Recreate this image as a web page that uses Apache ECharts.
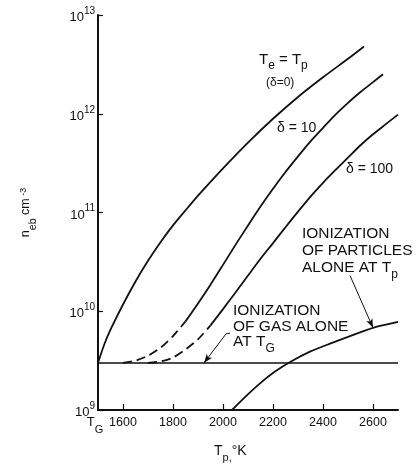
<!DOCTYPE html>
<html><head><meta charset="utf-8">
<script src="https://cdn.jsdelivr.net/npm/echarts@6/dist/echarts.min.js"></script>
<style>html,body{margin:0;padding:0;background:#fff}#c{width:419px;height:473px}</style>
</head><body><div id="c"></div>
<script>
// ---- data ----
const xTickValues = [1600, 1800, 2000, 2200, 2400, 2600];
const xLabelValues = [1500, 1600, 1800, 2000, 2200, 2400, 2600];
const yTickValues = [1e9, 1e10, 1e11, 1e12, 1e13];
const yTickExponents = ['9', '10', '11', '12', '13'];

// Te = Tp (delta = 0)
const tempEqual = [1500, 1525, 1550, 1600, 1650, 1700, 1750, 1800, 1850, 1900, 1950, 2000, 2100, 2200, 2300, 2400, 2500, 2564];
const neEqual   = [3.0e9, 4.6e9, 6.5e9, 1.17e10, 2.0e10, 3.24e10, 5.0e10, 7.4e10, 1.05e11, 1.48e11, 2.04e11, 2.8e11, 5.1e11, 8.9e11, 1.48e12, 2.34e12, 3.6e12, 4.8e12];

// delta = 10 (dashed part, then solid part)
const tempD10Dash = [1600, 1650, 1700, 1750, 1800, 1850];
const neD10Dash   = [3.0e9, 3.16e9, 3.55e9, 4.27e9, 5.6e9, 7.9e9];
const tempD10 = [1850, 1900, 1950, 2000, 2050, 2100, 2150, 2200, 2250, 2300, 2350, 2400, 2450, 2500, 2550, 2600, 2640];
const neD10   = [7.9e9, 1.2e10, 1.86e10, 2.95e10, 4.7e10, 7.4e10, 1.15e11, 1.74e11, 2.57e11, 3.7e11, 5.25e11, 7.2e11, 9.8e11, 1.29e12, 1.66e12, 2.09e12, 2.51e12];

// delta = 100 (dashed part, then solid part)
const tempD100Dash = [1700, 1750, 1800, 1850, 1900, 1950];
const neD100Dash   = [3.0e9, 3.1e9, 3.4e9, 4.1e9, 5.2e9, 7.2e9];
const tempD100 = [1950, 2000, 2050, 2100, 2150, 2200, 2250, 2300, 2350, 2400, 2450, 2500, 2550, 2600, 2650, 2700];
const neD100   = [7.2e9, 1.05e10, 1.55e10, 2.3e10, 3.4e10, 4.9e10, 7.1e10, 1.02e11, 1.45e11, 2.0e11, 2.7e11, 3.6e11, 4.8e11, 6.2e11, 7.8e11, 9.8e11];

// ionization of particles alone at Tp
const tempPart = [2036, 2088, 2148, 2208, 2272, 2348, 2428, 2508, 2600, 2700];
const nePart   = [1.0e9, 1.35e9, 1.86e9, 2.45e9, 3.1e9, 3.9e9, 4.7e9, 5.6e9, 6.8e9, 7.8e9];

// ionization of gas alone at TG
const tempGas = [1500, 2700];
const neGas   = [3.0e9, 3.0e9];

// ---- chart ----
const FF = 'Liberation Sans, Arial, sans-serif';
const INK = '#111';
function pairs(xs, ys) { return xs.map((x, i) => [x, ys[i]]); }
function curve(name, xs, ys, dashed) {
  return {
    name, type: 'line', data: pairs(xs, ys), showSymbol: false, smooth: 0.25,
    silent: true, animation: false,
    lineStyle: { color: INK, width: 1.8, type: dashed ? [9, 5] : 'solid' }
  };
}
const chart = echarts.init(document.getElementById('c'), null, { renderer: 'canvas' });
const arrowLine = { color: INK, width: 1, type: 'solid' };

const option = {
  animation: false,
  backgroundColor: '#fff',
  grid: { left: 98, right: 21, top: 15, bottom: 63 },
  xAxis: {
    type: 'value', min: 1500, max: 2700, interval: 100,
    axisLine: { lineStyle: { color: INK, width: 2 } },
    axisTick: { inside: true, length: 6, customValues: xTickValues, lineStyle: { color: INK, width: 1.2 } },
    splitLine: { show: false },
    axisLabel: {
      customValues: xLabelValues, margin: 6, color: INK, fontFamily: FF, fontSize: 12.5,
      formatter: v => v === 1500 ? '{t|T}{g|G}' : String(v),
      rich: {
        t: { fontFamily: FF, fontSize: 13, color: INK, lineHeight: 19, verticalAlign: 'top' },
        g: { fontFamily: FF, fontSize: 11, color: INK, lineHeight: 19, verticalAlign: 'bottom', padding: [0, 6, 0, 0] }
      }
    }
  },
  yAxis: {
    type: 'log', logBase: 10, min: 1e9, max: 1e13,
    axisLine: { show: true, lineStyle: { color: INK, width: 2 } },
    axisTick: { show: true, inside: true, length: 5, lineStyle: { color: INK, width: 1.2 } },
    splitLine: { show: false },
    axisLabel: {
      margin: 3, color: INK,
      formatter: v => {
        const i = yTickValues.findIndex(t => Math.abs(Math.log10(t) - Math.log10(v)) < 1e-6);
        return i < 0 ? '' : '{b|10}{s|' + yTickExponents[i] + '}';
      },
      rich: {
        b: { fontFamily: FF, fontSize: 13, color: INK, lineHeight: 18, verticalAlign: 'bottom' },
        s: { fontFamily: FF, fontSize: 10, color: INK, lineHeight: 18, verticalAlign: 'top' }
      }
    },
    name: '{n|n}{e|eb}{c| cm}{p| -3}',
    nameLocation: 'middle', nameGap: 59, nameRotate: 90,
    nameTextStyle: {
      rich: {
        n: { fontFamily: FF, fontSize: 12.5, color: INK, lineHeight: 20, verticalAlign: 'top' },
        e: { fontFamily: FF, fontSize: 10.5, color: INK, lineHeight: 20, verticalAlign: 'bottom' },
        c: { fontFamily: FF, fontSize: 12.5, color: INK, lineHeight: 20, verticalAlign: 'top' },
        p: { fontFamily: FF, fontSize: 9, color: INK, lineHeight: 20, verticalAlign: 'top' }
      }
    }
  },
  series: [
    curve('Te=Tp', tempEqual, neEqual, false),
    curve('d10dash', tempD10Dash, neD10Dash, true),
    curve('d10', tempD10, neD10, false),
    curve('d100dash', tempD100Dash, neD100Dash, true),
    curve('d100', tempD100, neD100, false),
    Object.assign(curve('particles', tempPart, nePart, false), {
      markLine: {
        silent: true, animation: false, symbol: ['none', 'arrow'], symbolSize: [5, 9],
        label: { show: false }, lineStyle: arrowLine,
        data: [[{ coord: [2508, 2.3e10] }, { coord: [2600, 6.8e9] }]]
      }
    }),
    Object.assign(curve('gas', tempGas, neGas, false), {
      lineStyle: { color: INK, width: 1.5 },
      markLine: {
        silent: true, animation: false, symbolSize: [5, 9],
        label: { show: false }, lineStyle: arrowLine,
        data: [
          [{ coord: [2028, 6.0e9], symbol: 'none' }, { coord: [2012, 5.9e9], symbol: 'none' }],
          [{ coord: [2012, 5.9e9], symbol: 'none' }, { coord: [1924, 3.0e9], symbol: 'arrow' }]
        ]
      }
    })
  ],
  graphic: [
    { type: 'text', x: 259, y: 52, silent: true, style: {
      text: '{t|T}{s|e}{t| = T}{s|p}', fill: INK,
      rich: {
        t: { fontFamily: FF, fontSize: 15, fill: INK, lineHeight: 20, verticalAlign: 'top' },
        s: { fontFamily: FF, fontSize: 12, fill: INK, lineHeight: 20, verticalAlign: 'bottom' }
      } } },
    { type: 'text', x: 266, y: 77, silent: true, style: { text: '(δ=0)', fill: INK, font: '12px ' + FF } },
    { type: 'text', x: 277, y: 121, silent: true, style: { text: 'δ = 10', fill: INK, font: '14px ' + FF } },
    { type: 'text', x: 346, y: 162, silent: true, style: { text: 'δ = 100', fill: INK, font: '14px ' + FF } },
    { type: 'text', x: 302, y: 226, silent: true, style: {
      text: '{a|IONIZATION}\n{a|OF PARTICLES}\n{a|ALONE AT T}{s|p}', fill: INK,
      rich: {
        a: { fontFamily: FF, fontSize: 15.5, fill: INK, lineHeight: 17, verticalAlign: 'top' },
        s: { fontFamily: FF, fontSize: 12, fill: INK, lineHeight: 21, verticalAlign: 'bottom' }
      } } },
    { type: 'text', x: 233, y: 303, silent: true, style: {
      text: '{a|IONIZATION}\n{a|OF GAS ALONE}\n{a|AT T}{s|G}', fill: INK,
      rich: {
        a: { fontFamily: FF, fontSize: 15.5, fill: INK, lineHeight: 15.5, verticalAlign: 'top' },
        s: { fontFamily: FF, fontSize: 12, fill: INK, lineHeight: 21, verticalAlign: 'bottom' }
      } } },
    { type: 'text', x: 214, y: 444, silent: true, style: {
      text: '{a|T}{s|p,}{d|°K}', fill: INK,
      rich: {
        a: { fontFamily: FF, fontSize: 14, fill: INK, lineHeight: 19, verticalAlign: 'top' },
        s: { fontFamily: FF, fontSize: 11, fill: INK, lineHeight: 19, verticalAlign: 'bottom' },
        d: { fontFamily: FF, fontSize: 14, fill: INK, lineHeight: 19, verticalAlign: 'top' }
      } } }
  ]
};
chart.setOption(option);
</script>
</body></html>
